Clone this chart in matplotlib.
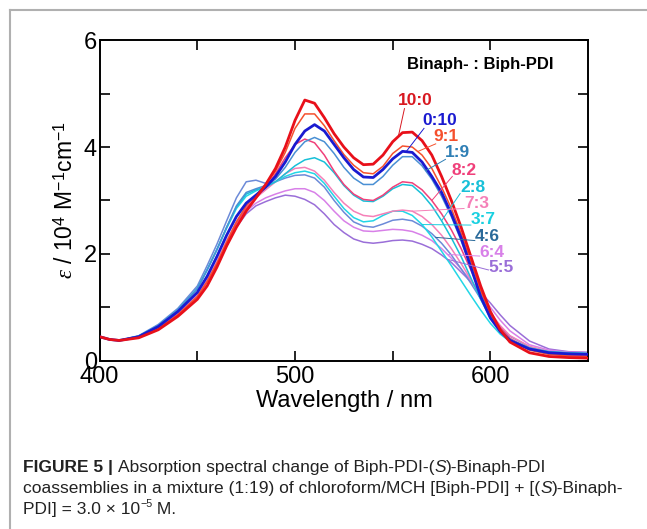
import numpy as np
import matplotlib
matplotlib.use("Agg")
import matplotlib.pyplot as plt
from matplotlib.lines import Line2D

plt.rcParams['font.family'] = ['Liberation Sans', 'DejaVu Sans']
plt.rcParams['mathtext.fontset'] = 'custom'
plt.rcParams['mathtext.rm'] = 'Liberation Sans'
plt.rcParams['mathtext.it'] = 'Liberation Serif:italic'

wavelength = [400, 405, 410, 420, 430, 440, 450, 455, 460, 465, 470, 475, 480, 485,
              490, 495, 500, 505, 510, 515, 520, 525, 530, 535, 540, 545, 550, 555,
              560, 565, 570, 575, 580, 585, 590, 595, 600, 605, 610, 620, 630, 640, 650]

ratios = ['10:0', '0:10', '9:1', '1:9', '8:2', '2:8', '7:3', '3:7', '4:6', '6:4', '5:5']

eps_10_0 = [.45, .40, .38, .43, .58, .83, 1.15, 1.4, 1.75, 2.15, 2.5, 2.8, 3.05, 3.3,
            3.6, 4.0, 4.5, 4.88, 4.82, 4.55, 4.25, 4.0, 3.8, 3.67, 3.68, 3.85, 4.1, 4.27,
            4.28, 4.12, 3.85, 3.45, 3.0, 2.5, 1.95, 1.4, 0.92, 0.58, 0.35, 0.15, 0.08, 0.06, 0.05]
eps_0_10 = [.45, .40, .38, .45, .64, .92, 1.28, 1.58, 1.95, 2.35, 2.7, 2.95, 3.1, 3.25,
            3.45, 3.72, 4.05, 4.3, 4.42, 4.3, 4.05, 3.8, 3.58, 3.44, 3.43, 3.58, 3.78, 3.92,
            3.9, 3.72, 3.45, 3.15, 2.75, 2.3, 1.75, 1.2, 0.8, 0.55, 0.38, 0.22, 0.15, 0.13, 0.12]
eps_9_1 = [.45, .40, .38, .44, .60, .86, 1.2, 1.48, 1.82, 2.22, 2.6, 2.9, 3.1, 3.3,
           3.55, 3.9, 4.35, 4.62, 4.62, 4.4, 4.12, 3.86, 3.66, 3.52, 3.5, 3.64, 3.88, 4.02,
           4.0, 3.85, 3.6, 3.25, 2.85, 2.38, 1.85, 1.32, 0.88, 0.58, 0.38, 0.2, 0.12, 0.09, 0.08]
eps_1_9 = [.45, .40, .38, .46, .66, .95, 1.35, 1.7, 2.08, 2.5, 2.9, 3.15, 3.22, 3.28,
           3.4, 3.62, 3.9, 4.1, 4.18, 4.1, 3.88, 3.62, 3.42, 3.3, 3.3, 3.45, 3.66, 3.82,
           3.82, 3.65, 3.4, 3.08, 2.7, 2.25, 1.75, 1.25, 0.85, 0.58, 0.4, 0.23, 0.16, 0.14, 0.13]
eps_8_2 = [.45, .40, .38, .44, .60, .86, 1.2, 1.48, 1.82, 2.2, 2.58, 2.85, 3.05, 3.25,
           3.5, 3.8, 4.05, 4.15, 4.08, 3.85, 3.55, 3.3, 3.12, 3.02, 3.0, 3.1, 3.25, 3.35,
           3.33, 3.2, 3.0, 2.75, 2.45, 2.1, 1.7, 1.28, 0.9, 0.62, 0.42, 0.22, 0.13, 0.1, 0.09]
eps_2_8 = [.45, .40, .38, .46, .66, .95, 1.35, 1.7, 2.08, 2.5, 2.88, 3.12, 3.2, 3.25,
           3.35, 3.5, 3.65, 3.76, 3.8, 3.72, 3.52, 3.28, 3.1, 2.99, 2.98, 3.08, 3.22, 3.3,
           3.28, 3.12, 2.9, 2.62, 2.3, 1.95, 1.55, 1.15, 0.8, 0.57, 0.4, 0.24, 0.17, 0.15, 0.14]
eps_7_3 = [.45, .40, .38, .45, .62, .88, 1.22, 1.52, 1.86, 2.25, 2.6, 2.88, 3.05, 3.2,
           3.35, 3.5, 3.6, 3.62, 3.55, 3.38, 3.15, 2.95, 2.8, 2.72, 2.7, 2.75, 2.8, 2.82,
           2.8, 2.7, 2.55, 2.35, 2.1, 1.82, 1.52, 1.2, 0.9, 0.66, 0.47, 0.27, 0.17, 0.13, 0.12]
eps_3_7 = [.45, .40, .38, .46, .66, .95, 1.35, 1.7, 2.08, 2.48, 2.85, 3.08, 3.18, 3.25,
           3.35, 3.45, 3.52, 3.55, 3.5, 3.32, 3.08, 2.85, 2.68, 2.6, 2.62, 2.72, 2.8, 2.8,
           2.72, 2.55, 2.32, 2.05, 1.78, 1.5, 1.22, 0.95, 0.7, 0.5, 0.36, 0.22, 0.16, 0.14, 0.13]
eps_4_6 = [.45, .40, .38, .47, .68, .98, 1.4, 1.78, 2.18, 2.62, 3.05, 3.35, 3.38, 3.32,
           3.35, 3.42, 3.47, 3.48, 3.42, 3.25, 3.0, 2.78, 2.6, 2.52, 2.5, 2.56, 2.63, 2.65,
           2.62, 2.52, 2.38, 2.2, 1.98, 1.72, 1.45, 1.16, 0.88, 0.64, 0.46, 0.26, 0.17, 0.14, 0.13]
eps_6_4 = [.45, .40, .38, .45, .62, .88, 1.22, 1.5, 1.82, 2.18, 2.55, 2.8, 2.95, 3.05,
           3.12, 3.18, 3.22, 3.22, 3.15, 3.0, 2.8, 2.62, 2.5, 2.43, 2.42, 2.44, 2.46, 2.45,
           2.42, 2.35, 2.25, 2.1, 1.92, 1.72, 1.5, 1.25, 1.0, 0.76, 0.56, 0.3, 0.2, 0.16, 0.15]
eps_5_5 = [.45, .40, .38, .45, .62, .88, 1.2, 1.48, 1.8, 2.15, 2.5, 2.75, 2.9, 2.98,
           3.05, 3.1, 3.08, 3.02, 2.92, 2.75, 2.55, 2.4, 2.28, 2.22, 2.2, 2.22, 2.25, 2.26,
           2.24, 2.18, 2.1, 1.98, 1.84, 1.66, 1.48, 1.28, 1.08, 0.86, 0.66, 0.37, 0.22, 0.17, 0.16]

spectra = [eps_10_0, eps_0_10, eps_9_1, eps_1_9, eps_8_2, eps_2_8,
           eps_7_3, eps_3_7, eps_4_6, eps_6_4, eps_5_5]

line_colors = ['#e8101a', '#1a1ad0', '#f5502d', '#4a90d4', '#f0407a', '#18c0d8',
               '#f580b8', '#22d6e6', '#6c8ad8', '#d880e8', '#9a6ed8']
label_colors = ['#d81820', '#1a1ad0', '#f5502d', '#2f7fb5', '#f0407a', '#18c0d8',
                '#f580b8', '#18d0e0', '#2a6a9a', '#d880e8', '#9a6ed8']
widths = [2.0, 2.0, 1.1, 1.1, 1.1, 1.1, 1.1, 1.1, 1.1, 1.1, 1.1]

# label text position (left edge) and leader line (start, end) in data units
label_pos = [(552.5, 4.88), (565.0, 4.49), (571.0, 4.19), (576.7, 3.89), (580.3, 3.57),
             (584.4, 3.25), (586.4, 2.95), (590.0, 2.64), (592.0, 2.33), (594.6, 2.03),
             (599.2, 1.75)]
leaders = [((556.0, 4.72), (553.0, 4.22)), ((566.0, 4.35), (557.0, 3.92)),
           ((572.0, 4.06), (563.0, 3.92)), ((577.0, 3.77), (567.0, 3.56)),
           ((580.5, 3.45), (570.0, 3.00)), ((584.5, 3.13), (575.0, 2.62)),
           ((586.5, 2.85), (560.0, 2.80)), ((590.0, 2.54), (565.0, 2.55)),
           ((592.0, 2.25), (572.0, 2.31)), ((594.5, 1.96), (578.0, 1.99)),
           ((599.0, 1.70), (578.0, 1.90))]

fig = plt.figure(figsize=(6.47, 5.29), dpi=100)
ax = fig.add_axes([0.154, 0.318, 0.755, 0.606])

order = list(range(len(spectra)))[::-1]
for i in order:
    ax.plot(wavelength, spectra[i], color=line_colors[i], lw=widths[i], zorder=3 if i < 2 else 2)

for i, r in enumerate(ratios):
    (x0, y0), (x1, y1) = leaders[i]
    ax.plot([x0, x1], [y0, y1], color=label_colors[i], lw=0.7, zorder=4)
    ax.text(label_pos[i][0], label_pos[i][1], r, color=label_colors[i], fontsize=12.5,
            fontweight='bold', ha='left', va='center', zorder=5)

ax.text(0.78, 0.925, 'Binaph- : Biph-PDI', transform=ax.transAxes, fontsize=12,
        fontweight='bold', ha='center', va='center')

ax.set_xlim(400, 650)
ax.set_ylim(0, 6)
ax.set_xticks([400, 500, 600])
ax.set_xticks([450, 550], minor=True)
ax.set_yticks([0, 2, 4, 6])
ax.set_yticks([1, 3, 5], minor=True)
ax.tick_params(which='both', direction='in', top=True, right=True, width=1.2,
               labelsize=17)
ax.tick_params(axis='x', pad=4)
ax.tick_params(axis='y', pad=2)
ax.tick_params(which='major', length=7)
ax.tick_params(which='minor', length=7)
for s in ax.spines.values():
    s.set_linewidth(1.4)

ax.set_xlabel('Wavelength / nm', fontsize=17, labelpad=1)
ax.set_ylabel(r'$\varepsilon$ / 10$^4$ M$^{-1}$cm$^{-1}$', fontsize=16.5, labelpad=4)

# frame of the figure panel
fig.add_artist(Line2D([10 / 647, 10 / 647], [0, 1 - 10 / 529], color='#b0b0b0', lw=1.5))
fig.add_artist(Line2D([10 / 647, 1], [1 - 10 / 529, 1 - 10 / 529], color='#b0b0b0', lw=1.5))

# caption with mixed styles
renderer = fig.canvas.get_renderer()
cap_font = ['Liberation Sans Narrow', 'Liberation Sans', 'DejaVu Sans']


def draw_runs(x, y, runs, size=12.5):
    for txt, weight, style, sup in runs:
        fs = size * 0.62 if sup else size
        yy = y + (0.013 if sup else 0)
        t = fig.text(x, yy, txt, fontsize=fs, fontweight=weight, fontstyle=style,
                     family=cap_font, ha='left', va='baseline', color='#222222')
        bb = t.get_window_extent(renderer)
        x += bb.width / fig.bbox.width


draw_runs(23 / 647, 1 - 472 / 529, [('FIGURE 5 | ', 'bold', 'normal', False),
                                    ('Absorption spectral change of Biph-PDI-(', 'normal', 'normal', False),
                                    ('S', 'normal', 'italic', False),
                                    (')-Binaph-PDI', 'normal', 'normal', False)])
draw_runs(23 / 647, 1 - 493 / 529, [('coassemblies in a mixture (1:19) of chloroform/MCH [Biph-PDI] + [(', 'normal', 'normal', False),
                                    ('S', 'normal', 'italic', False),
                                    (')-Binaph-', 'normal', 'normal', False)])
draw_runs(23 / 647, 1 - 514 / 529, [('PDI] = 3.0 \u00d7 10', 'normal', 'normal', False),
                                    ('\u22125', 'normal', 'normal', True),
                                    (' M.', 'normal', 'normal', False)])

fig.savefig('out.png', dpi=100)
